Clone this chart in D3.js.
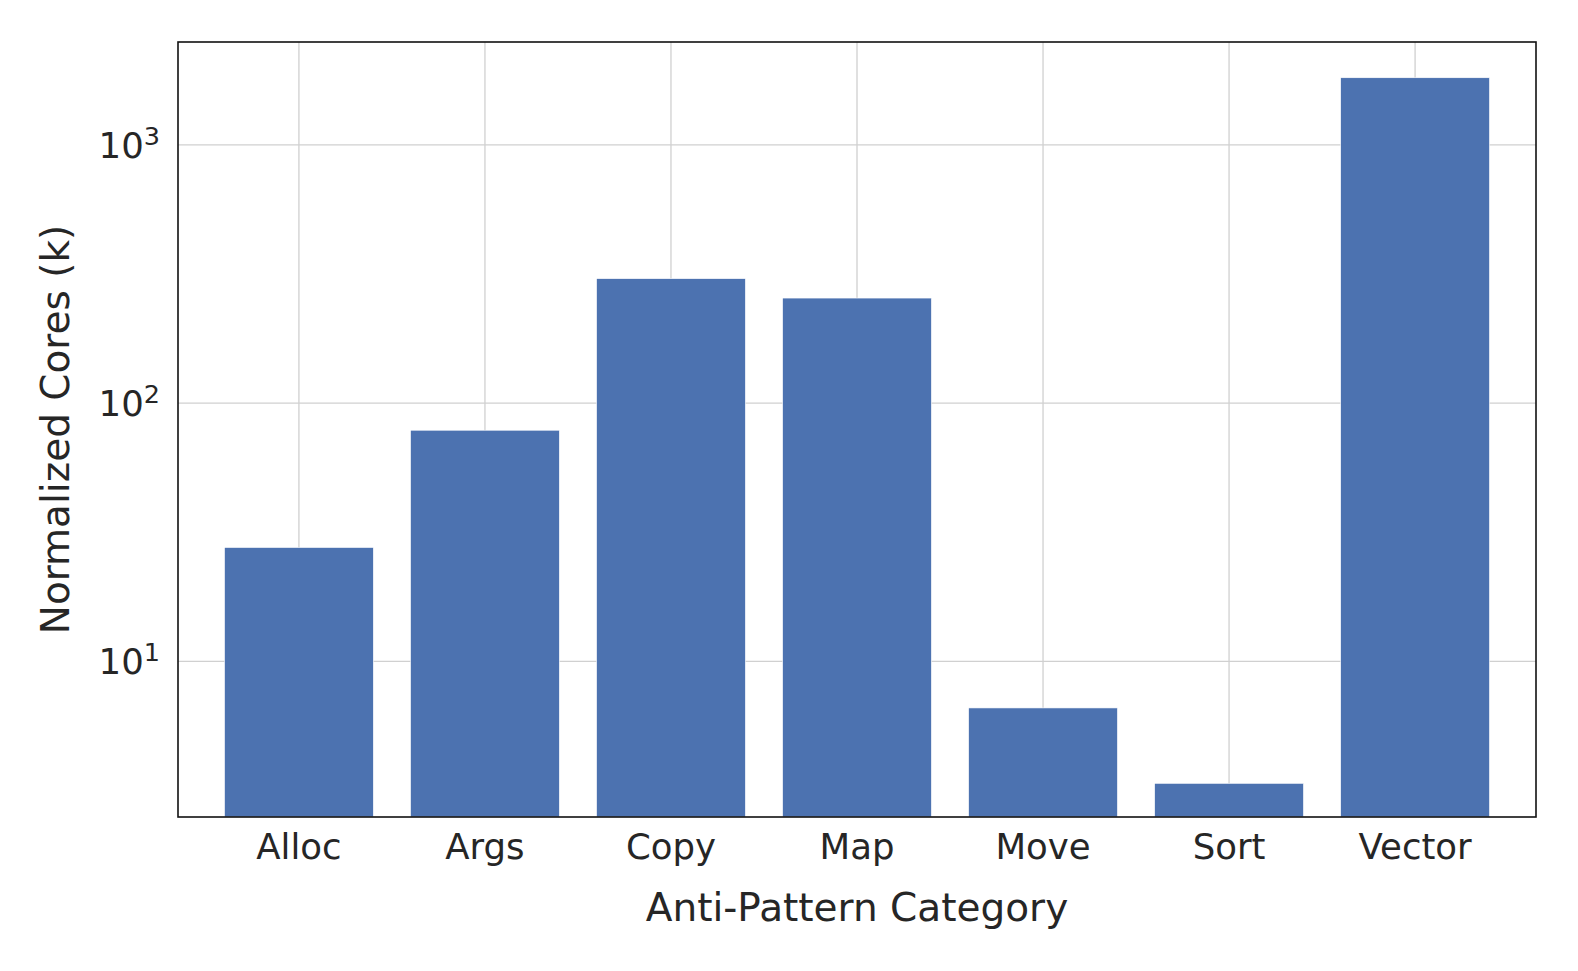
<!DOCTYPE html>
<html>
<head>
<meta charset="utf-8">
<script src="https://cdn.jsdelivr.net/npm/d3@7"></script>
<style>
  html, body { margin: 0; padding: 0; background: #fff; }
  svg { display: block; }
  text { font-family: "DejaVu Sans", sans-serif; fill: #262626; }
</style>
</head>
<body>
<svg id="chart" width="1578" height="971"></svg>
<script>
const categories = ["Alloc", "Args", "Copy", "Map", "Move", "Sort", "Vector"];
const values = [27.5, 78.2, 302, 254, 6.58, 3.36, 1810];
const yTickValues = [10, 100, 1000];
const yTickExponents = ["1", "2", "3"];
const yDomain = [2.489, 2489];
const xLabel = "Anti-Pattern Category";
const yLabel = "Normalized Cores (k)";

const W = 1578, H = 971;
const m = { left: 178, right: 1536, top: 42, bottom: 817 };
const svg = d3.select("#chart");

const x = d3.scaleBand().domain(categories).range([m.left, m.right])
  .paddingInner(0.2).paddingOuter(0.25);
const y = d3.scaleLog().domain(yDomain).range([m.bottom, m.top]);

// grid
const gridY = svg.append("g").attr("transform", `translate(${m.left},0)`)
  .call(d3.axisLeft(y).tickValues(yTickValues).tickSize(-(m.right - m.left)).tickFormat(""));
gridY.select(".domain").remove();
gridY.selectAll("line").attr("stroke", "#d0d0d0").attr("stroke-width", 1.3);

const gridX = svg.append("g").attr("transform", `translate(0,${m.top})`)
  .call(d3.axisBottom(x).tickSize(m.bottom - m.top).tickFormat(""));
gridX.select(".domain").remove();
gridX.selectAll("line").attr("stroke", "#d0d0d0").attr("stroke-width", 1.3);

// bars
svg.append("g").selectAll("rect").data(categories).join("rect")
  .attr("x", d => x(d))
  .attr("width", x.bandwidth())
  .attr("y", (d, i) => y(values[i]))
  .attr("height", (d, i) => m.bottom - y(values[i]))
  .attr("fill", "#4c72b0")
  .attr("stroke", "#ffffff")
  .attr("stroke-width", 0.6);

// frame
svg.append("rect")
  .attr("x", m.left).attr("y", m.top)
  .attr("width", m.right - m.left).attr("height", m.bottom - m.top)
  .attr("fill", "none").attr("stroke", "#111").attr("stroke-width", 1.6);

// x axis labels
const xAxis = svg.append("g").attr("transform", `translate(0,${m.bottom})`)
  .call(d3.axisBottom(x).tickSize(0).tickPadding(0));
xAxis.select(".domain").remove();
xAxis.selectAll("text")
  .attr("y", 42).attr("dy", null)
  .style("font-size", "35.5px")
  .style("font-family", "DejaVu Sans")
  .attr("fill", "#262626");

// y axis labels with superscripts
const yAxis = svg.append("g").attr("transform", `translate(${m.left},0)`)
  .call(d3.axisLeft(y).tickValues(yTickValues).tickSize(0).tickFormat(""));
yAxis.select(".domain").remove();
yAxis.selectAll(".tick text")
  .attr("x", -18).attr("dy", null).attr("y", 13)
  .attr("text-anchor", "end")
  .style("font-size", "35.5px")
  .style("font-family", "DejaVu Sans")
  .attr("fill", "#262626")
  .each(function(d, i) {
    const t = d3.select(this);
    t.text(null);
    t.append("tspan").text("10");
    t.append("tspan").text(yTickExponents[i]).attr("dy", -13).style("font-size", "25.5px");
  });

// axis titles
svg.append("text")
  .attr("x", (m.left + m.right) / 2).attr("y", 921)
  .attr("text-anchor", "middle")
  .style("font-size", "39px")
  .text(xLabel);

svg.append("text")
  .attr("transform", `translate(69,${(m.top + m.bottom) / 2}) rotate(-90)`)
  .attr("text-anchor", "middle")
  .style("font-size", "39px")
  .text(yLabel);
</script>
</body>
</html>
